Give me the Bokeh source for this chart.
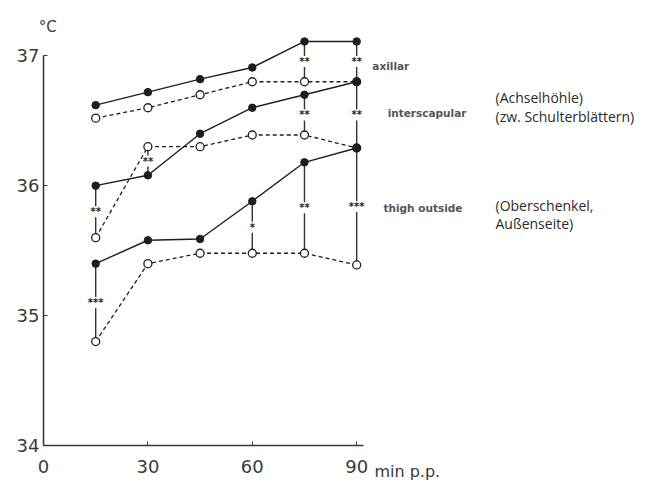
from bokeh.plotting import figure
from bokeh.models import Range1d, FixedTicker
from bokeh.core.properties import value
from bokeh.embed import file_html
from bokeh.resources import INLINE

# time after birth (min p.p.)
minutes = [15, 30, 45, 60, 75, 90]
# axillar (Achselhöhle)
ax_filled = [36.62, 36.72, 36.82, 36.91, 37.11, 37.11]
ax_open = [36.52, 36.60, 36.70, 36.80, 36.80, 36.80]
# interscapular (zw. Schulterblättern)
is_filled = [36.00, 36.08, 36.40, 36.60, 36.70, 36.80]
is_open = [35.60, 36.30, 36.30, 36.39, 36.39, 36.29]
# thigh outside (Oberschenkel, Außenseite)
th_filled = [35.40, 35.58, 35.59, 35.88, 36.18, 36.29]
th_open = [34.80, 35.40, 35.48, 35.48, 35.48, 35.39]

# significance marks
sig_x = [15, 15, 30, 60, 75, 75, 75, 90, 90, 90]
sig_hi = [36.00, 35.40, 36.30, 35.88, 37.11, 36.70, 36.18, 37.11, 36.80, 36.29]
sig_lo = [35.60, 34.80, 36.08, 35.48, 36.80, 36.39, 35.48, 36.80, 36.29, 35.39]
sig_txt = ["**", "***", "**", "*", "**", "**", "**", "**", "**", "***"]

x_ticks = [0, 30, 60, 90]
y_ticks = [34, 35, 36, 37]

site_labels = ["axillar", "interscapular", "thigh outside"]
site_x = [94.5, 98.9, 97.7]
site_y = [36.92, 36.56, 35.83]
german_labels = ["(Achselhöhle)", "(zw. Schulterblättern)", "(Oberschenkel,", "Außenseite)"]
german_y = [36.68, 36.53, 35.85, 35.71]

INK = "#1e1e1e"
AX = "#3a3a3a"
FONT = "DejaVu Sans"

p = figure(width=645, height=486, output_backend="svg", toolbar_location=None,
           x_range=Range1d(-10.92, 173.0), y_range=Range1d(33.723, 37.31),
           min_border_left=5, min_border_right=0, min_border_top=15, min_border_bottom=5)
p.outline_line_color = None
p.grid.visible = False

for ax in (p.xaxis[0], p.yaxis[0]):
    ax.axis_line_color = AX
    ax.axis_line_width = 1.6
    ax.major_tick_in = 4
    ax.major_tick_out = 0
    ax.major_tick_line_color = AX
    ax.minor_tick_line_color = None
    ax.major_label_text_font = FONT
    ax.major_label_text_font_size = "18px"
    ax.major_label_text_color = AX
p.xaxis.ticker = FixedTicker(ticks=x_ticks)
p.yaxis.ticker = FixedTicker(ticks=y_ticks)
p.xaxis.bounds = (0, 92)
p.yaxis.bounds = (34, 37)
p.xaxis.fixed_location = 34
p.yaxis.fixed_location = 0
p.xaxis.major_label_standoff = 14
p.yaxis.major_label_standoff = 4

# significance connectors
p.segment(x0=sig_x, y0=sig_lo, x1=sig_x, y1=sig_hi, line_color="#333333", line_width=1.4)
mid = [(a + b) / 2 for a, b in zip(sig_hi, sig_lo)]
p.text(x=sig_x, y=mid, text=sig_txt, text_font=value(FONT), text_font_size="10px",
       text_font_style="bold", text_align="center", text_baseline="middle",
       text_color=INK, background_fill_color="white")

for yf, yo in ((ax_filled, ax_open), (is_filled, is_open), (th_filled, th_open)):
    p.line(minutes, yf, line_color=INK, line_width=1.4)
    p.line(minutes, yo, line_color=INK, line_width=1.3, line_dash="4 3")
    p.scatter(minutes, yo, size=8, marker="circle", fill_color="white", line_color=INK, line_width=1.3)
    p.scatter(minutes, yf, size=7.5, marker="circle", fill_color=INK, line_color=INK)

# original (blurred) site labels
p.text(x=site_x, y=site_y, text=site_labels, text_font=value(FONT), text_font_size="10.5px",
       text_font_style="bold", text_baseline="middle", text_color="#555555")

# German translations
p.text(x=[129.9] * len(german_labels), y=german_y, text=german_labels,
       text_font=value("Open Sans"), text_font_size="14px", text_baseline="middle",
       text_color="#2a2a2a")

p.text(x=[1.2], y=[37.22], text=["°C"], text_font=value(FONT), text_font_size="15px",
       text_align="center", text_baseline="middle", text_color=AX)
p.text(x=[95.1], y=[33.80], text=["min p.p."], text_font=value(FONT), text_font_size="16px",
       text_baseline="middle", text_color=AX)

open("out.html", "w").write(file_html(p, INLINE))
